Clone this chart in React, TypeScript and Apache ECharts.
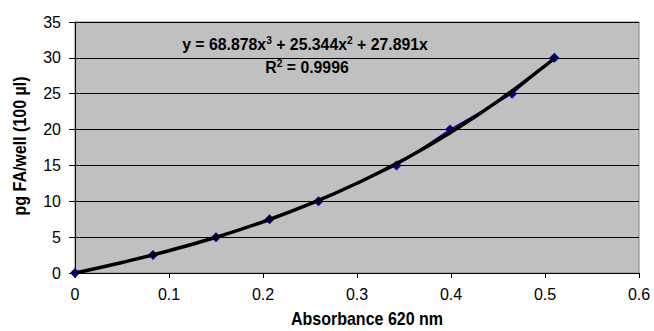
import React, { useEffect, useRef } from "react";
import * as echarts from "echarts";

const absorbance = [0, 0.083, 0.15, 0.207, 0.259, 0.342, 0.399, 0.465, 0.51];
const concentration = [0, 2.5, 5, 7.5, 10, 15, 20, 25, 30];

// Trendline
const trendX = [0, 0.05, 0.1, 0.15, 0.2, 0.25, 0.3, 0.35, 0.4, 0.45, 0.5, 0.51];
const trendY = [0, 1.47, 3.11, 4.99, 7.14, 9.63, 12.51, 15.82, 19.62, 23.96, 28.89, 29.95];

const xTicks = [0, 0.1, 0.2, 0.3, 0.4, 0.5, 0.6];
const yTicks = [0, 5, 10, 15, 20, 25, 30, 35];

const xTitle = "Absorbance 620 nm";
const yTitle = "pg FA/well (100 µl)";
const equationLine = "y = 68.878x{s|3} + 25.344x{s|2} + 27.891x";
const r2Line = "R{s|2} = 0.9996";

const SANS = "'Liberation Sans', Arial, sans-serif";

export default function App() {
  const ref = useRef<HTMLDivElement>(null);
  useEffect(() => {
    if (!ref.current) return;
    const chart = echarts.init(ref.current, null, { renderer: "svg" });
    const gridL = 75, gridT = 22, gridW = 564, gridH = 251;
    const boldText = { fontFamily: SANS, fontWeight: "bold", fill: "#000" };
    chart.setOption({
      animation: false,
      backgroundColor: "#ffffff",
      grid: { left: gridL, top: gridT, width: gridW, height: gridH, show: true, backgroundColor: "#C0C0C0", borderColor: "#808080", borderWidth: 1 },
      xAxis: {
        type: "value",
        min: xTicks[0],
        max: xTicks[xTicks.length - 1],
        interval: 0.1,
        axisLine: { show: true, lineStyle: { color: "#000", width: 1 } },
        axisTick: { show: true, length: 5, lineStyle: { color: "#000" } },
        axisLabel: { fontFamily: SANS, fontSize: 16, color: "#000", margin: 13, formatter: (v: number) => String(Math.round(v * 10) / 10) },
        splitLine: { show: false },
      },
      yAxis: {
        type: "value",
        min: yTicks[0],
        max: yTicks[yTicks.length - 1],
        interval: 5,
        axisLine: { show: true, lineStyle: { color: "#000", width: 1 } },
        axisTick: { show: true, length: 6, lineStyle: { color: "#000" } },
        axisLabel: { fontFamily: SANS, fontSize: 16, color: "#000", margin: 14 },
        splitLine: { show: true, lineStyle: { color: "#000", width: 1 } },
      },
      series: [
        {
          type: "line",
          data: absorbance.map((x, i) => [x, concentration[i]]),
          symbol: "diamond",
          symbolSize: 10,
          itemStyle: { color: "#000080" },
          lineStyle: { color: "#000080", width: 1.5 },
          z: 2,
        },
        {
          type: "line",
          data: trendX.map((x, i) => [x, trendY[i]]),
          smooth: true,
          symbol: "none",
          lineStyle: { color: "#000", width: 3.5 },
          z: 3,
        },
      ],
      graphic: [
        {
          type: "text",
          x: 305,
          y: 44,
          scaleX: 0.93,
          style: {
            ...boldText,
            text: equationLine,
            align: "center",
            verticalAlign: "middle",
            fontSize: 17,
            rich: { s: { ...boldText, fontSize: 11, padding: [0, 0, 8, 0] } },
          },
        },
        {
          type: "text",
          x: 307,
          y: 67,
          scaleX: 0.93,
          style: {
            ...boldText,
            text: r2Line,
            align: "center",
            verticalAlign: "middle",
            fontSize: 17,
            rich: { s: { ...boldText, fontSize: 11, padding: [0, 0, 8, 0] } },
          },
        },
        {
          type: "text",
          x: 367,
          y: 319,
          scaleX: 0.89,
          style: { ...boldText, text: xTitle, align: "center", verticalAlign: "middle", fontSize: 18 },
        },
        {
          type: "text",
          x: 20,
          y: 146,
          rotation: Math.PI / 2,
          scaleX: 0.89,
          style: { ...boldText, text: yTitle, align: "center", verticalAlign: "middle", fontSize: 18 },
        },
      ],
    });
    return () => chart.dispose();
  }, []);
  return <div ref={ref} style={{ position: "fixed", left: 0, top: 0, width: 654, height: 331 }} />;
}
